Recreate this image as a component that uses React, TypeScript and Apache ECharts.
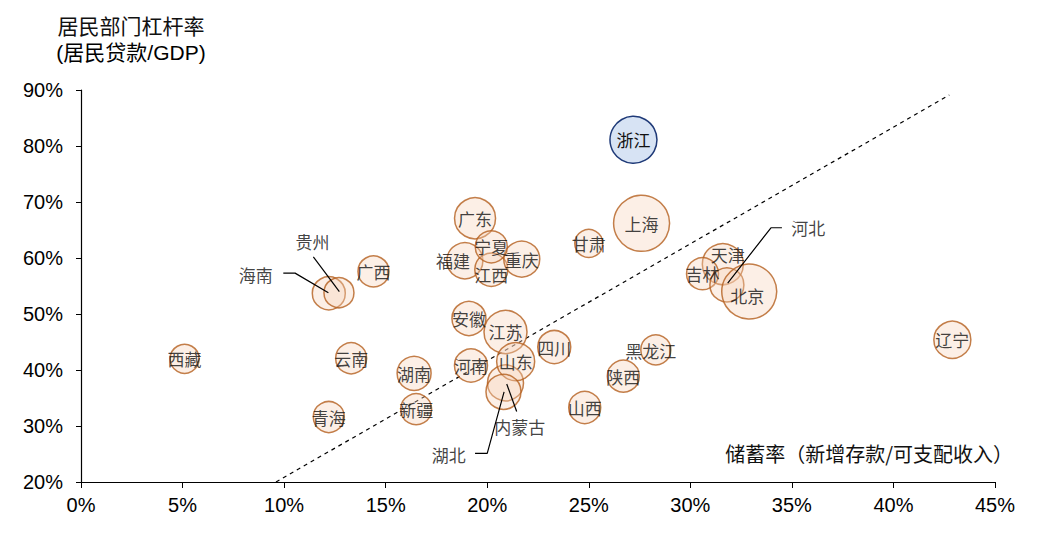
import React, { useEffect, useRef } from "react";
import * as echarts from "echarts";

// Provinces, savings rate (x, %), household leverage (y, %), bubble diameter (px)
const provinces = [
  "浙江", "上海", "甘肃", "天津", "吉林", "河北", "北京", "海南", "贵州", "广西",
  "广东", "福建", "江西", "重庆", "宁夏", "安徽", "江苏", "四川", "河南", "内蒙古",
  "山东", "湖北", "湖南", "新疆", "山西", "陕西", "黑龙江", "西藏", "云南", "青海", "辽宁",
];
const savingRate = [
  27.2, 27.6, 25.0, 31.6, 30.6, 31.8, 32.9, 12.2, 12.7, 14.4,
  19.4, 18.9, 20.2, 21.7, 20.2, 19.1, 20.9, 23.3, 19.2, 20.9,
  21.4, 20.8, 16.4, 16.5, 24.8, 26.7, 28.3, 5.1, 13.3, 12.2, 42.9,
];
const leverage = [
  81.1, 66.2, 62.6, 58.9, 57.2, 55.2, 54.0, 53.7, 53.8, 57.6,
  67.1, 59.5, 57.9, 59.8, 62.0, 49.2, 46.8, 44.1, 40.8, 37.7,
  41.5, 36.1, 39.4, 33.0, 33.3, 38.9, 43.6, 42.0, 42.1, 31.6, 45.4,
];
const bubbleSize = [
  47, 56, 28, 41, 32, 34, 55, 33, 30, 31,
  41, 36, 33, 36, 32, 34, 43, 33, 33, 36,
  38, 35, 34, 31, 32, 32, 30, 29, 31, 31, 37,
];
// Provinces whose names sit outside the bubble, with a leader line
const calloutNames = ["海南", "贵州", "河北", "内蒙古", "湖北"];
const calloutLabelPos = [
  [8.6, 57.0], [11.4, 62.9], [35.8, 65.4], [21.6, 29.9], [18.1, 25.0],
];
const calloutLines = [
  [[9.96, 57.3], [10.54, 57.3], [12.18, 53.8]],
  [[11.44, 60.2], [12.72, 54.0]],
  [[31.84, 55.5], [33.97, 65.4], [34.51, 65.4]],
  [[20.96, 37.5], [21.45, 32.6]],
  [[19.4, 25.1], [20.0, 25.1], [20.83, 36.1]],
];
// Small nudges for names that sit off-centre in their bubble
const labelNudge: Record<string, number[]> = {
  天津: [5, -10],
  北京: [-2, 4],
  黑龙江: [-5, 1],
  福建: [-12, 0],
  江西: [0, 5],
};
// Dashed reference line endpoints
const refLine = [[9.6, 20], [42.75, 89.1]];

const xTicks = { min: 0, max: 45, interval: 5 };
const yTicks = { min: 20, max: 90, interval: 10 };

const CJK = "'Noto Sans CJK SC', sans-serif";
const LATIN = "'Liberation Sans', Arial, sans-serif";

export default function App() {
  const ref = useRef<HTMLDivElement>(null);

  useEffect(() => {
    if (!ref.current) return;
    const chart = echarts.init(ref.current, null, { renderer: "svg" });

    const bubbles = provinces.map((name, i) => {
      const item: any = {
        name,
        value: [savingRate[i], leverage[i], bubbleSize[i]],
      };
      if (name === "浙江") {
        item.itemStyle = { color: "#d7e3f4", borderColor: "#1f3a78", opacity: 1 };
      }
      if (calloutNames.includes(name)) {
        item.label = { show: false };
      } else if (labelNudge[name]) {
        item.label = { offset: labelNudge[name] };
      }
      return item;
    });

    const leaderSeries = calloutLines.map((pts) => ({
      type: "line",
      data: pts,
      symbol: "none",
      silent: true,
      z: 5,
      lineStyle: { color: "#000", width: 1.2 },
    }));

    chart.setOption({
      animation: false,
      grid: { left: 81, right: 48, top: 90, bottom: 52 },
      xAxis: {
        type: "value",
        ...xTicks,
        splitLine: { show: false },
        axisLine: { show: true, lineStyle: { color: "#000", width: 1.2 } },
        axisTick: { show: true, length: 6, lineStyle: { color: "#000" } },
        axisLabel: {
          formatter: "{value}%",
          fontSize: 20,
          fontFamily: LATIN,
          color: "#000",
          margin: 13,
        },
      },
      yAxis: {
        type: "value",
        ...yTicks,
        splitLine: { show: false },
        axisLine: { show: true, lineStyle: { color: "#000", width: 1.2 } },
        axisTick: { show: true, length: 5, lineStyle: { color: "#000" } },
        axisLabel: {
          formatter: "{value}%",
          fontSize: 20,
          fontFamily: LATIN,
          color: "#000",
          margin: 18,
        },
      },
      graphic: [
        {
          type: "text",
          x: 131,
          y: 25,
          style: {
            text: "居民部门杠杆率",
            fontSize: 21,
            fontFamily: CJK,
            fill: "#111",
            align: "center",
            verticalAlign: "middle",
          },
        },
        {
          type: "text",
          x: 131,
          y: 52,
          style: {
            text: "(居民贷款/GDP)",
            fontSize: 21,
            fontFamily: `'Liberation Sans', ${CJK}`,
            fill: "#000",
            align: "center",
            verticalAlign: "middle",
          },
        },
        {
          type: "text",
          x: 1013,
          y: 453,
          style: {
            text: "储蓄率（新增存款/可支配收入）",
            fontSize: 20,
            fontFamily: CJK,
            fill: "#111",
            align: "right",
            verticalAlign: "middle",
          },
        },
      ],
      series: [
        {
          type: "line",
          data: refLine,
          symbol: "none",
          silent: true,
          z: 1,
          lineStyle: { color: "#000", width: 1.2, type: [4, 4] },
        },
        {
          type: "scatter",
          z: 3,
          data: bubbles,
          symbolSize: (v: number[]) => v[2],
          itemStyle: {
            color: "rgba(246, 212, 186, 0.45)",
            borderColor: "#b45f1e",
            borderWidth: 1.5,
          },
          label: {
            show: true,
            position: "inside",
            formatter: (p: any) => p.name,
            fontSize: 17,
            fontFamily: CJK,
            color: "#111",
          },
          emphasis: { disabled: true },
        },
        ...leaderSeries,
        {
          type: "scatter",
          z: 6,
          symbolSize: 0,
          silent: true,
          data: calloutNames.map((name, i) => ({ name, value: calloutLabelPos[i] })),
          label: {
            show: true,
            position: "inside",
            formatter: (p: any) => p.name,
            fontSize: 17,
            fontFamily: CJK,
            color: "#111",
          },
        },
      ],
    });

    return () => chart.dispose();
  }, []);

  return <div ref={ref} style={{ width: 1043, height: 534, margin: -8 }} />;
}
